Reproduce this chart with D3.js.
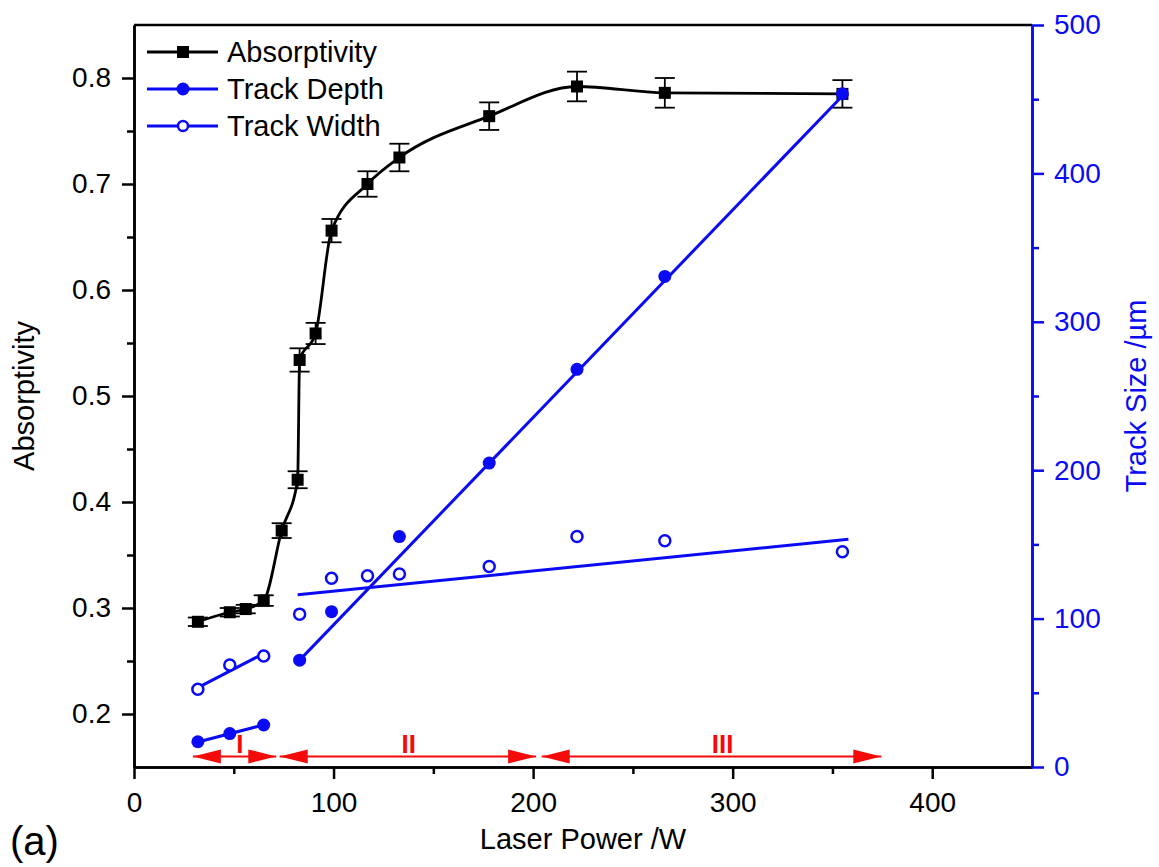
<!DOCTYPE html>
<meta charset="utf-8">
<style>
body {
    margin: 0;
    background: #fff;
}

svg {
    display: block;
    font-family: "Liberation Sans", Arial, sans-serif;
}

.axis text {
    font-size: 28px;
}

.axis path,
.axis line {
    stroke-width: 2.5px;
}

.legend text {
    font-size: 29px;
}
</style>

<body>
    <script src="https://cdn.jsdelivr.net/npm/d3@7"></script>
    <script>
    // absorptivity measurements (laser power in W)
    var powerAbs = [32, 48, 56, 65, 74, 82, 83, 91, 99, 117, 133, 178, 222, 266, 355];
    var absorptivity = [0.287, 0.296, 0.299, 0.307, 0.373, 0.421, 0.534, 0.559, 0.656, 0.700, 0.725, 0.764, 0.792, 0.786, 0.785];
    var absorptivityErr = [0.004, 0.004, 0.004, 0.005, 0.007, 0.008, 0.011, 0.010, 0.011, 0.012, 0.013, 0.013, 0.014, 0.014, 0.013];

    // track depth and width (um)
    var powerDepth = [32, 48, 65, 83, 99, 133, 178, 222, 266, 355];
    var trackDepth = [17, 22.5, 28.3, 72, 104.7, 155.3, 204.8, 268, 330.6, 453.6];
    var powerWidth = [32, 48, 65, 83, 99, 117, 133, 178, 222, 266, 355];
    var trackWidth = [52.4, 68.8, 74.8, 103, 127.2, 128.8, 130, 135.1, 155.3, 152.4, 145];

    // linear fit lines (start, end)
    var depthFitPower = [[32, 65], [83, 357]];
    var depthFitSize = [[16.8, 28.4], [72, 455]];
    var widthFitPower = [[32, 65], [82, 358]];
    var widthFitSize = [[53.5, 76.5], [116, 153.5]];

    // regimes marked under the curves
    var regimeNames = ["I", "II", "III"];
    var regimeStart = [29.5, 73, 204.3];
    var regimeEnd = [71.3, 201.5, 374.5];
    var regimeLabelAt = [53, 137.7, 295];

    var xTicks = [0, 100, 200, 300, 400];
    var xMinor = [50, 150, 250, 350];
    var yTicks = [0.2, 0.3, 0.4, 0.5, 0.6, 0.7, 0.8];
    var yMinor = [0.25, 0.35, 0.45, 0.55, 0.65, 0.75];
    var y2Ticks = [0, 100, 200, 300, 400, 500];
    var y2Minor = [50, 150, 250, 350, 450];

    var legendNames = ["Absorptivity", "Track Depth", "Track Width"];

    var blue = "#0a0af5",
        red = "#f50a0a";

    // plot box
    var box = { left: 134, right: 1032, top: 25, bottom: 767 };

    var svg = d3.select("body")
        .append("svg")
        .attr("width", 1159)
        .attr("height", 867);

    var x = d3.scaleLinear().domain([0, 450]).range([box.left, box.right]);
    var y = d3.scaleLinear().domain([0.15, 0.85]).range([box.bottom, box.top]);
    var y2 = d3.scaleLinear().domain([0, 500]).range([box.bottom, box.top]);

    // top frame line
    svg.append("line")
        .attr("x1", box.left).attr("x2", box.right)
        .attr("y1", box.top).attr("y2", box.top)
        .attr("stroke", "#000")
        .attr("stroke-width", 2.5);

    // x axis
    svg.append("g")
        .attr("class", "axis")
        .attr("transform", "translate(0," + box.bottom + ")")
        .call(d3.axisBottom(x).tickValues(xTicks).tickSize(12).tickSizeOuter(0).tickPadding(13));
    svg.append("g")
        .attr("class", "axis")
        .attr("transform", "translate(0," + box.bottom + ")")
        .call(d3.axisBottom(x).tickValues(xMinor).tickSize(7).tickSizeOuter(0).tickFormat(""));

    // left axis
    svg.append("g")
        .attr("class", "axis")
        .attr("transform", "translate(" + box.left + ",0)")
        .call(d3.axisLeft(y).tickValues(yTicks).tickSize(12).tickSizeOuter(0).tickPadding(11).tickFormat(d3.format(".1f")));
    svg.append("g")
        .attr("class", "axis")
        .attr("transform", "translate(" + box.left + ",0)")
        .call(d3.axisLeft(y).tickValues(yMinor).tickSize(7).tickSizeOuter(0).tickFormat(""));

    // right axis (blue)
    var rAxis = svg.append("g")
        .attr("class", "axis")
        .attr("transform", "translate(" + box.right + ",0)")
        .call(d3.axisRight(y2).tickValues(y2Ticks).tickSize(12).tickSizeOuter(0).tickPadding(10));
    var rMinor = svg.append("g")
        .attr("class", "axis")
        .attr("transform", "translate(" + box.right + ",0)")
        .call(d3.axisRight(y2).tickValues(y2Minor).tickSize(7).tickSizeOuter(0).tickFormat(""));
    [rAxis, rMinor].forEach(function(g) {
        g.selectAll("path, line").attr("stroke", blue);
        g.selectAll("text").attr("fill", blue);
    });

    // axis titles
    svg.append("text")
        .attr("x", (box.left + box.right) / 2)
        .attr("y", 849)
        .attr("text-anchor", "middle")
        .attr("font-size", 29)
        .text("Laser Power /W");

    svg.append("text")
        .attr("transform", "translate(34," + (box.top + box.bottom) / 2 + ") rotate(-90)")
        .attr("text-anchor", "middle")
        .attr("font-size", 29)
        .text("Absorptivity");

    svg.append("text")
        .attr("transform", "translate(1146," + (box.top + box.bottom) / 2 + ") rotate(-90)")
        .attr("text-anchor", "middle")
        .attr("font-size", 29)
        .attr("fill", blue)
        .text("Track Size /\u00b5m");

    svg.append("text")
        .attr("x", 10)
        .attr("y", 855)
        .attr("font-size", 40)
        .text("(a)");

    // absorptivity: smooth line, error bars, squares
    var absData = powerAbs.map(function(p, i) {
        return { p: p, v: absorptivity[i], e: absorptivityErr[i] };
    });

    svg.append("path")
        .datum(absData)
        .attr("fill", "none")
        .attr("stroke", "#000")
        .attr("stroke-width", 2.8)
        .attr("d", d3.line()
            .curve(d3.curveMonotoneX)
            .x(function(d) { return x(d.p); })
            .y(function(d) { return y(d.v); }));

    var err = svg.append("g")
        .attr("stroke", "#000")
        .attr("stroke-width", 1.8);
    absData.forEach(function(d) {
        var cx = x(d.p), y0 = y(d.v - d.e), y1 = y(d.v + d.e);
        err.append("line").attr("x1", cx).attr("x2", cx).attr("y1", y0).attr("y2", y1);
        err.append("line").attr("x1", cx - 10).attr("x2", cx + 10).attr("y1", y0).attr("y2", y0);
        err.append("line").attr("x1", cx - 10).attr("x2", cx + 10).attr("y1", y1).attr("y2", y1);
    });

    svg.selectAll(".sq")
        .data(absData)
        .enter()
        .append("rect")
        .attr("class", "sq")
        .attr("x", function(d) { return x(d.p) - 6; })
        .attr("y", function(d) { return y(d.v) - 6; })
        .attr("width", 12)
        .attr("height", 12)
        .attr("fill", "#000");

    // fit lines
    var fitLine = d3.line()
        .x(function(d) { return x(d[0]); })
        .y(function(d) { return y2(d[1]); });

    function drawFits(powers, sizes) {
        powers.forEach(function(p, i) {
            svg.append("path")
                .datum(d3.zip(p, sizes[i]))
                .attr("fill", "none")
                .attr("stroke", blue)
                .attr("stroke-width", 3)
                .attr("d", fitLine);
        });
    }
    drawFits(widthFitPower, widthFitSize);
    drawFits(depthFitPower, depthFitSize);

    // track width: open circles
    svg.selectAll(".wd")
        .data(d3.zip(powerWidth, trackWidth))
        .enter()
        .append("circle")
        .attr("class", "wd")
        .attr("cx", function(d) { return x(d[0]); })
        .attr("cy", function(d) { return y2(d[1]); })
        .attr("r", 5.5)
        .attr("fill", "#fff")
        .attr("stroke", blue)
        .attr("stroke-width", 2.5);

    // track depth: filled circles
    svg.selectAll(".dp")
        .data(d3.zip(powerDepth, trackDepth))
        .enter()
        .append("circle")
        .attr("class", "dp")
        .attr("cx", function(d) { return x(d[0]); })
        .attr("cy", function(d) { return y2(d[1]); })
        .attr("r", 6.5)
        .attr("fill", blue);

    // regime arrows
    var arrowY = y(0.16);
    var reg = svg.append("g");
    regimeNames.forEach(function(name, i) {
        var x0 = x(regimeStart[i]), x1 = x(regimeEnd[i]);
        reg.append("line")
            .attr("x1", x0).attr("x2", x1)
            .attr("y1", arrowY).attr("y2", arrowY)
            .attr("stroke", red)
            .attr("stroke-width", 2);
        reg.append("path")
            .attr("d", "M" + x0 + "," + arrowY + "L" + (x0 + 28) + "," + (arrowY - 7) + "L" + (x0 + 28) + "," + (arrowY + 7) + "Z")
            .attr("fill", red);
        reg.append("path")
            .attr("d", "M" + x1 + "," + arrowY + "L" + (x1 - 28) + "," + (arrowY - 7) + "L" + (x1 - 28) + "," + (arrowY + 7) + "Z")
            .attr("fill", red);
        reg.append("text")
            .attr("x", x(regimeLabelAt[i]))
            .attr("y", arrowY - 3)
            .attr("text-anchor", "middle")
            .attr("font-size", 26)
            .attr("font-weight", "bold")
            .attr("fill", red)
            .text(name);
    });

    // legend
    var legend = svg.append("g").attr("class", "legend");
    var rowY = [52, 89, 126];
    legendNames.forEach(function(name, i) {
        var g = legend.append("g").attr("transform", "translate(0," + rowY[i] + ")");
        var col = i === 0 ? "#000" : blue;
        g.append("line")
            .attr("x1", 147).attr("x2", 218)
            .attr("stroke", col)
            .attr("stroke-width", 2.8);
        if (i === 0) {
            g.append("rect").attr("x", 177).attr("y", -6).attr("width", 12).attr("height", 12).attr("fill", "#000");
        } else if (i === 1) {
            g.append("circle").attr("cx", 183).attr("r", 6.5).attr("fill", blue);
        } else {
            g.append("circle").attr("cx", 183).attr("r", 5).attr("fill", "#fff").attr("stroke", blue).attr("stroke-width", 2.5);
        }
        g.append("text")
            .attr("x", 227)
            .attr("dy", "0.36em")
            .text(name);
    });
    </script>
</body>
